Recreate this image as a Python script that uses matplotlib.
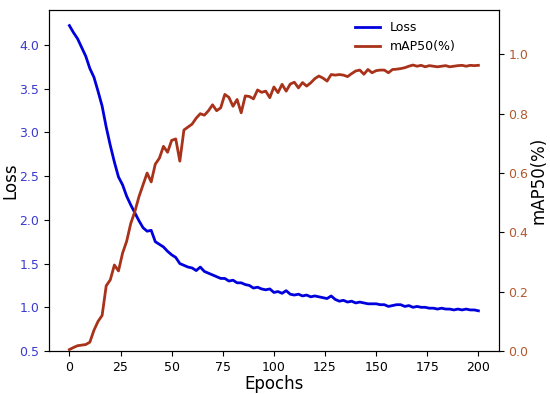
import numpy as np
import matplotlib
matplotlib.use('Agg')
import matplotlib.pyplot as plt

# Loss, read every 2 epochs
loss_epochs = list(range(0, 201, 2))
loss = [4.22, 4.14, 4.07, 3.97, 3.87, 3.73, 3.63, 3.47, 3.30, 3.06,
        2.85, 2.66, 2.49, 2.40, 2.27, 2.17, 2.08, 1.99, 1.91, 1.87,
        1.88, 1.75, 1.72, 1.69, 1.64, 1.60, 1.57, 1.50, 1.48, 1.46,
        1.45, 1.42, 1.46, 1.41, 1.39, 1.37, 1.35, 1.33, 1.33, 1.30,
        1.31, 1.28, 1.28, 1.26, 1.25, 1.22, 1.23, 1.21, 1.20, 1.21,
        1.17, 1.18, 1.16, 1.19, 1.15, 1.14, 1.15, 1.13, 1.14, 1.12,
        1.13, 1.12, 1.11, 1.10, 1.13, 1.09, 1.07, 1.08, 1.06, 1.07,
        1.05, 1.06, 1.05, 1.04, 1.04, 1.04, 1.03, 1.03, 1.01, 1.02,
        1.03, 1.03, 1.01, 1.02, 1.00, 1.01, 1.00, 1.00, 0.99, 0.99,
        0.98, 0.99, 0.98, 0.98, 0.97, 0.98, 0.97, 0.98, 0.97, 0.97,
        0.96]

# mAP50, read every 2 epochs
map_epochs = list(range(0, 201, 2))
map50 = [0.005, 0.012, 0.018, 0.020, 0.022, 0.030, 0.070, 0.100, 0.120, 0.220,
         0.240, 0.290, 0.270, 0.330, 0.370, 0.430, 0.470, 0.520, 0.560, 0.600,
         0.570, 0.630, 0.650, 0.690, 0.670, 0.710, 0.715, 0.640, 0.745, 0.755,
         0.765, 0.785, 0.800, 0.795, 0.810, 0.830, 0.810, 0.820, 0.865, 0.855,
         0.825, 0.848, 0.803, 0.860, 0.858, 0.850, 0.880, 0.872, 0.876, 0.854,
         0.890, 0.871, 0.899, 0.876, 0.900, 0.906, 0.887, 0.905, 0.893, 0.904,
         0.918, 0.927, 0.920, 0.910, 0.932, 0.930, 0.932, 0.930, 0.925, 0.935,
         0.944, 0.947, 0.933, 0.949, 0.938, 0.945, 0.947, 0.947, 0.938, 0.949,
         0.950, 0.952, 0.955, 0.960, 0.964, 0.960, 0.963, 0.958, 0.962, 0.960,
         0.958, 0.960, 0.962, 0.958, 0.960, 0.962, 0.963, 0.960, 0.963, 0.962,
         0.963]

loss_color = '#0000dd'
map_color = '#a8321a'

fig = plt.figure(figsize=(5.5, 3.94), dpi=100)
ax1 = fig.add_axes([0.089, 0.109, 0.818, 0.866])
ax2 = ax1.twinx()

l1, = ax1.plot(loss_epochs, loss, color=loss_color, lw=2, label='Loss')
l2, = ax2.plot(map_epochs, map50, color=map_color, lw=2, label='mAP50(%)')

ax1.set_xlim(-10, 210)
ax1.set_ylim(0.5, 4.4)
ax2.set_ylim(0, 1.15)
ax1.set_yticks([0.5, 1.0, 1.5, 2.0, 2.5, 3.0, 3.5, 4.0])
ax2.set_yticks([0.0, 0.2, 0.4, 0.6, 0.8, 1.0])

ax1.tick_params(labelsize=9)
ax2.tick_params(labelsize=9)
ax1.tick_params(axis='y', labelcolor='#3a3ad0')
ax2.tick_params(axis='y', labelcolor='#b05a30')

ax1.set_xlabel('Epochs', fontsize=12, labelpad=1)
ax1.set_ylabel('Loss', fontsize=12)
ax2.set_ylabel('mAP50(%)', fontsize=12)
# keep the side labels inside the canvas
ax1.yaxis.set_label_coords(-0.066, 0.5)
ax2.yaxis.set_label_coords(1.068, 0.5)

ax1.legend(handles=[l1, l2], loc='upper right', frameon=False, fontsize=9,
           bbox_to_anchor=(0.93, 1.0))

fig.savefig('out.png', dpi=100)
